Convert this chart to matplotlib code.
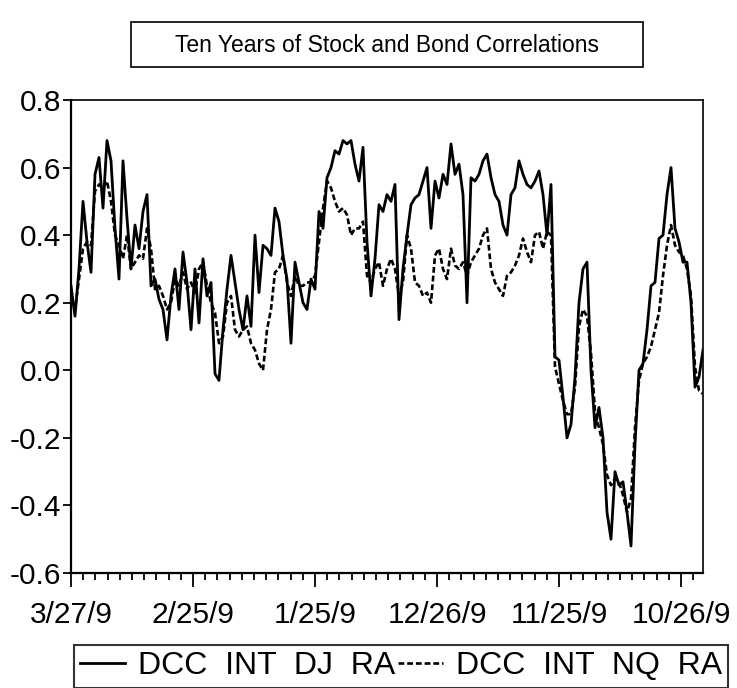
import numpy as np
import matplotlib
matplotlib.use("Agg")
import matplotlib.pyplot as plt
from matplotlib.patches import Rectangle

plt.rcParams['font.family'] = ['Liberation Sans', 'DejaVu Sans']

# conditional correlations, sampled across the ten-year window
dcc_int_dj = [
    0.25, 0.16, 0.30, 0.50, 0.38, 0.29, 0.58, 0.63, 0.48, 0.68,
    0.62, 0.42, 0.27, 0.62, 0.45, 0.30, 0.43, 0.36, 0.47, 0.52,
    0.25, 0.27, 0.21, 0.18, 0.09, 0.22, 0.30, 0.18, 0.35, 0.26,
    0.12, 0.30, 0.14, 0.33, 0.22, 0.26, -0.01, -0.03, 0.12, 0.24,
    0.34, 0.26, 0.18, 0.12, 0.22, 0.13, 0.40, 0.23, 0.37, 0.36,
    0.34, 0.48, 0.44, 0.34, 0.27, 0.08, 0.32, 0.26, 0.20, 0.18,
    0.27, 0.24, 0.47, 0.42, 0.57, 0.60, 0.65, 0.64, 0.68, 0.67,
    0.68, 0.61, 0.56, 0.66, 0.38, 0.22, 0.33,
    0.49, 0.47, 0.52, 0.50, 0.55, 0.15, 0.30, 0.40, 0.49, 0.51,
    0.52, 0.56, 0.60, 0.42, 0.56, 0.51, 0.58, 0.55, 0.67, 0.58,
    0.61, 0.52, 0.20, 0.57, 0.56, 0.58, 0.62, 0.64, 0.57, 0.52,
    0.50, 0.43, 0.40, 0.52, 0.54, 0.62, 0.58, 0.55,
    0.54, 0.56, 0.59, 0.52, 0.40, 0.55, 0.04, 0.03, -0.08, -0.20,
    -0.16, -0.02, 0.20, 0.30, 0.32, 0.00, -0.17, -0.11, -0.20, -0.42,
    -0.50, -0.30, -0.34, -0.33, -0.42, -0.52, -0.22, 0.00, 0.02, 0.12,
    0.25, 0.26, 0.39, 0.40, 0.52, 0.60, 0.42, 0.38, 0.32, 0.32,
    0.20, -0.05, -0.02, 0.06,
]
dcc_int_nq = [
    0.22, 0.18, 0.27, 0.36, 0.38, 0.37, 0.53, 0.55, 0.54, 0.56,
    0.50, 0.40, 0.37, 0.33, 0.40, 0.30, 0.32, 0.34, 0.33, 0.42,
    0.36, 0.24, 0.25, 0.22, 0.18, 0.20, 0.27, 0.25, 0.29, 0.24,
    0.26, 0.23, 0.30, 0.32, 0.25, 0.20, 0.17, 0.08, 0.10, 0.20,
    0.22, 0.12, 0.10, 0.12, 0.13, 0.08, 0.06, 0.02, 0.00, 0.12,
    0.18, 0.29, 0.30, 0.34, 0.26, 0.22, 0.28, 0.25, 0.25, 0.26,
    0.26, 0.28, 0.38, 0.48, 0.56, 0.54, 0.50, 0.47, 0.48, 0.46,
    0.40, 0.42, 0.42, 0.44, 0.28, 0.26, 0.30,
    0.32, 0.25, 0.30, 0.33, 0.30, 0.22, 0.26, 0.40, 0.36, 0.26,
    0.25, 0.22, 0.23, 0.20, 0.34, 0.36, 0.30, 0.27, 0.36, 0.31,
    0.30, 0.32, 0.28, 0.32, 0.34, 0.36, 0.40, 0.42, 0.30, 0.26,
    0.24, 0.22, 0.28, 0.29, 0.31, 0.34, 0.39, 0.35,
    0.32, 0.40, 0.41, 0.36, 0.41, 0.40, 0.01, -0.04, -0.09, -0.13,
    -0.13, -0.05, 0.13, 0.18, 0.16, 0.05, -0.12, -0.17, -0.22, -0.31,
    -0.34, -0.32, -0.33, -0.37, -0.42, -0.38, -0.17, -0.03, 0.02, 0.04,
    0.07, 0.12, 0.17, 0.28, 0.37, 0.43, 0.37, 0.35, 0.34, 0.30,
    0.22, 0.01, -0.06, -0.07,
]
date_labels = ["3/27/9", "2/25/9", "1/25/9", "12/26/9", "11/25/9", "10/26/9"]
series_names = ["DCC  INT  DJ  RA", "DCC  INT  NQ  RA"]
title = "Ten Years of Stock and Bond Correlations"

obs = np.arange(len(dcc_int_dj))
W, H = 737, 688

fig = plt.figure(figsize=(W / 100, H / 100), dpi=100)
ax = fig.add_axes([71 / W, 1 - 573 / H, 632 / W, 473 / H])

l1, = ax.plot(obs, dcc_int_dj, color='black', lw=2.0, label=series_names[0])
l2, = ax.plot(obs, dcc_int_nq, color='black', lw=1.9, dashes=(2.2, 1.1),
              label=series_names[1])

ax.set_xlim(0, obs[-1])
ax.set_ylim(-0.6, 0.8)
yt = np.round(np.arange(-0.6, 0.81, 0.2), 1)
ax.set_yticks(yt)
ax.set_yticklabels([f"{v:.1f}" for v in yt])

# label every 10th tick
step = obs[-1] * 122 / 632
ax.set_xticks([step * i for i in range(len(date_labels))])
ax.set_xticklabels(date_labels)
ax.set_xticks(np.arange(0, obs[-1] + 0.01, step / 10), minor=True)

ax.tick_params(axis='both', which='both', direction='out', color='black',
               labelsize=21.5, width=1.3)
ax.tick_params(axis='y', length=6, pad=1)
ax.tick_params(axis='x', which='major', length=10, pad=10)
ax.tick_params(axis='x', which='minor', length=5)
for side in ['left', 'bottom']:
    ax.spines[side].set_linewidth(1.6)
for side in ['top', 'right']:
    ax.spines[side].set_linewidth(1.2)

# boxed title
fig.add_artist(Rectangle((131 / W, 1 - 67 / H), 512 / W, 45 / H,
                         transform=fig.transFigure, fill=False,
                         lw=1.2, ec='black'))
fig.text(387 / W, 1 - 45 / H, title, ha='center', va='center', fontsize=16.5)

leg = fig.legend(handles=[l1, l2], loc='upper left',
                 bbox_to_anchor=(74 / W, 1 - 645 / H), ncol=2,
                 fontsize=23, frameon=True, fancybox=False,
                 edgecolor='black', borderaxespad=0, borderpad=0.2,
                 handlelength=1.4, handletextpad=0.4, columnspacing=0.1)
leg.get_frame().set_linewidth(1.5)

fig.savefig("out.png", dpi=100)
